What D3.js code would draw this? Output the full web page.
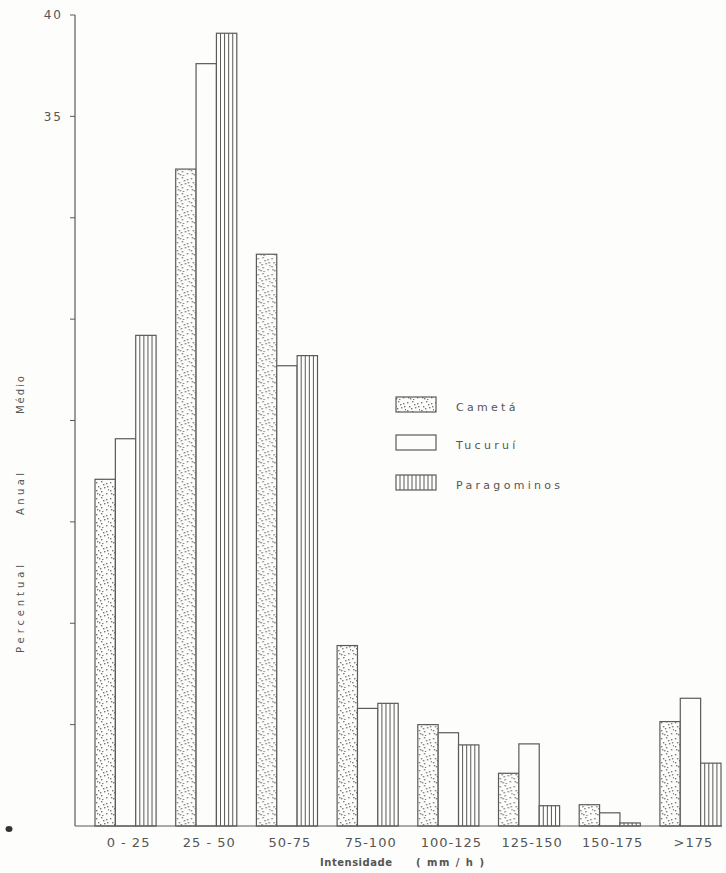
<!DOCTYPE html>
<html>
<head>
<meta charset="utf-8">
<script src="https://cdn.jsdelivr.net/npm/d3@7"></script>
<style>
  html, body { margin: 0; padding: 0; background: #fdfdfb; }
  svg { display: block; }
  text { font-family: "DejaVu Sans", "Liberation Sans", sans-serif; fill: #555; }
</style>
</head>
<body>
<svg id="chart" width="726" height="873"></svg>
<script>
// Rainfall intensity classes (mm/h)
const categories = ["0 - 25", "25 - 50", "50-75", "75-100", "100-125", "125-150", "150-175", ">175"];
const stations = ["Cametá", "Tucuruí", "Paragominos"];
// Mean annual percentage per class, by station
const cameta      = [17.1, 32.4, 28.2, 8.9, 5.0, 2.6, 1.05, 5.15];
const tucurui     = [19.1, 37.6, 22.7, 5.8, 4.6, 4.05, 0.65, 6.3];
const paragominos = [24.2, 39.1, 23.2, 6.05, 4.0, 1.0, 0.15, 3.1];
const yTicks = [5, 10, 15, 20, 25, 30, 35, 40];
const yTickLabels = [35, 40];

const seriesValues = [cameta, tucurui, paragominos];
const rows = categories.map((c, i) => ({
  cat: c,
  vals: stations.map((s, j) => ({ station: s, idx: j, v: seriesValues[j][i] }))
}));

const ink = "#5a5a5a";
const svg = d3.select("#chart");

const x = d3.scaleBand().domain(categories).range([95, 721]).paddingInner(0.243).paddingOuter(0);
const xs = d3.scaleBand().domain(stations).range([0, x.bandwidth()]);
const y = d3.scaleLinear().domain([0, 40]).range([826, 15]);

// Stipple pattern for Cametá
const defs = svg.append("defs");
const pat = defs.append("pattern")
  .attr("id", "stipple").attr("patternUnits", "userSpaceOnUse")
  .attr("width", 14).attr("height", 16);
const dots = [[1,2],[6,1],[11,3],[3,6],[9,7],[13,9],[1,10],[6,11],[11,13],[4,14],[8,4],[2,13],[12,6],[7,15],[5,8]];
pat.selectAll("rect").data(dots).join("rect")
  .attr("x", d => d[0]).attr("y", d => d[1])
  .attr("width", 1.4).attr("height", 1.4).attr("fill", "#777");

// Bars
const g = svg.append("g");
const groups = g.selectAll("g.grp").data(rows).join("g")
  .attr("class", "grp")
  .attr("transform", d => `translate(${x(d.cat)},0)`);

groups.each(function(d) {
  const grp = d3.select(this);
  d.vals.forEach(b => {
    const bx = xs(b.station), bw = xs.bandwidth();
    const top = y(b.v), h = y(0) - y(b.v);
    grp.append("rect")
      .attr("x", bx).attr("y", top).attr("width", bw).attr("height", h)
      .attr("fill", b.idx === 0 ? "url(#stipple)" : "#fdfdfb")
      .attr("stroke", ink).attr("stroke-width", 1.2);
    if (b.idx === 2) {
      d3.range(1, 5).forEach(k => {
        grp.append("line")
          .attr("x1", bx + k * bw / 5).attr("x2", bx + k * bw / 5)
          .attr("y1", top).attr("y2", y(0))
          .attr("stroke", ink).attr("stroke-width", 1);
      });
    }
  });
});

// Y axis
svg.append("line").attr("x1", 75).attr("x2", 75).attr("y1", y(40)).attr("y2", y(0))
  .attr("stroke", ink).attr("stroke-width", 1.2);
svg.selectAll("line.ytick").data(yTicks).join("line")
  .attr("class", "ytick")
  .attr("x1", 70).attr("x2", 75).attr("y1", d => y(d)).attr("y2", d => y(d))
  .attr("stroke", ink).attr("stroke-width", 1);
svg.selectAll("text.ylab").data(yTickLabels).join("text")
  .attr("class", "ylab")
  .attr("x", 63).attr("y", d => y(d)).attr("dy", "0.35em")
  .attr("text-anchor", "end").attr("font-size", 12).attr("letter-spacing", 2)
  .text(d => d);

// Baseline
svg.append("line").attr("x1", 75).attr("x2", 722).attr("y1", y(0)).attr("y2", y(0))
  .attr("stroke", ink).attr("stroke-width", 1.2);

// X category labels
svg.selectAll("text.xlab").data(categories).join("text")
  .attr("class", "xlab")
  .attr("x", d => x(d) + x.bandwidth() / 2 + 3).attr("y", 847)
  .attr("text-anchor", "middle").attr("font-size", 13).attr("letter-spacing", 1)
  .text(d => d);

// X title
svg.append("text").attr("x", 320).attr("y", 866)
  .attr("font-size", 10).attr("font-weight", "bold")
  .attr("textLength", 72).attr("lengthAdjust", "spacing")
  .text("Intensidade");
svg.append("text").attr("x", 416).attr("y", 866)
  .attr("font-size", 10).attr("font-weight", "bold")
  .attr("textLength", 68).attr("lengthAdjust", "spacing")
  .text("( mm / h )");

// Y title, three spaced words
const yWords = [["Percentual", 609, 88], ["Anual", 494, 42], ["Médio", 395, 38]];
yWords.forEach(([w, cy, len]) => {
  svg.append("text")
    .attr("transform", `translate(24,${cy}) rotate(-90)`)
    .attr("text-anchor", "middle").attr("font-size", 10)
    .attr("textLength", len).attr("lengthAdjust", "spacing")
    .text(w);
});

// Legend
const legY = [397, 435, 475];
const leg = svg.append("g");
stations.forEach((s, i) => {
  leg.append("rect")
    .attr("x", 396).attr("y", legY[i]).attr("width", 40).attr("height", 15)
    .attr("fill", i === 0 ? "url(#stipple)" : "#fdfdfb")
    .attr("stroke", ink).attr("stroke-width", 1.2);
  if (i === 2) {
    d3.range(1, 10).forEach(k => {
      leg.append("line")
        .attr("x1", 396 + k * 4).attr("x2", 396 + k * 4)
        .attr("y1", legY[i]).attr("y2", legY[i] + 15)
        .attr("stroke", ink).attr("stroke-width", 1);
    });
  }
  leg.append("text")
    .attr("x", 456).attr("y", legY[i] + 10).attr("dy", "0.35em")
    .attr("font-size", 11).attr("letter-spacing", 3.3)
    .text(s);
});

// Small mark at lower left
svg.append("ellipse").attr("cx", 9).attr("cy", 829).attr("rx", 3.5).attr("ry", 3)
  .attr("fill", "#333");
</script>
</body>
</html>
